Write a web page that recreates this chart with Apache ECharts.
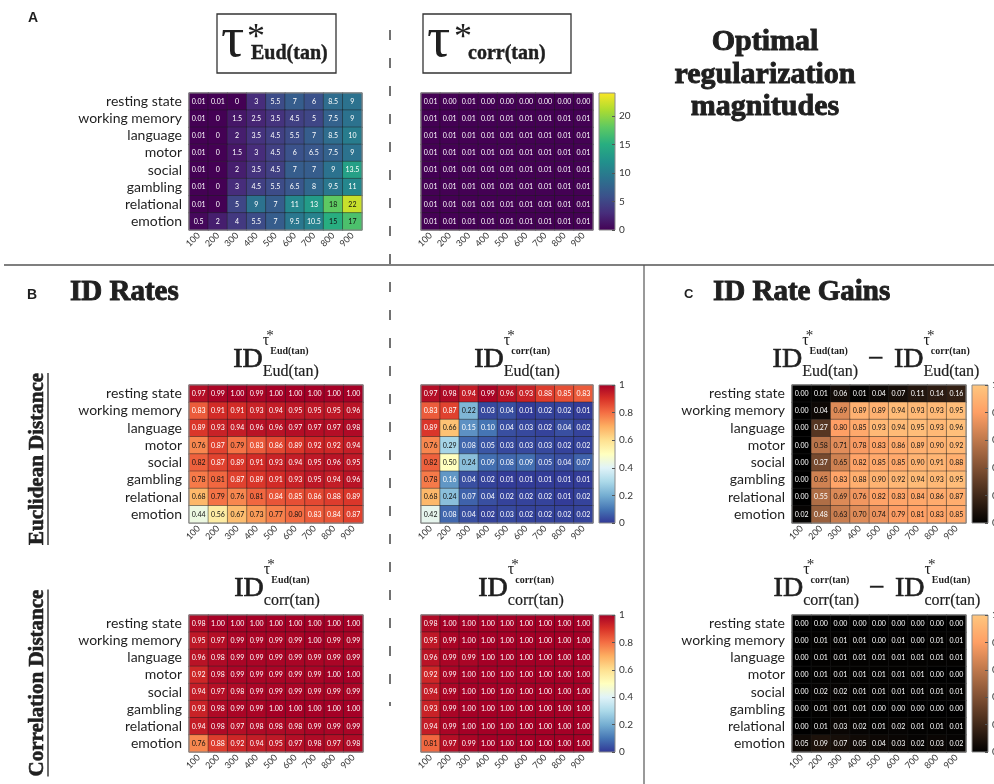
<!DOCTYPE html>
<html><head><meta charset="utf-8">
<script src="https://cdn.jsdelivr.net/npm/echarts@6/dist/echarts.min.js"></script>
<style>html,body{margin:0;padding:0;background:#fff}#c{width:994px;height:784px}</style>
</head><body><div id="c"></div>
<script>
// ---------------- DATA ----------------
const rowLabels = ['resting state','working memory','language','motor','social','gambling','relational','emotion'];
const sampleSizes = ['100','200','300','400','500','600','700','800','900'];
const tauTicks = [0,5,10,15,20];
const rateTicks = [0,0.2,0.4,0.6,0.8,1];

// A: optimal regularization magnitudes
const tauEud = [
 [0.01,0.01,0,3,5.5,7,6,8.5,9],
 [0.01,0,1.5,2.5,3.5,4.5,5,7.5,9],
 [0.01,0,2,3.5,4.5,5.5,7,8.5,10],
 [0.01,0,1.5,3,4.5,6,6.5,7.5,9],
 [0.01,0,2,3.5,4.5,7,7,9,13.5],
 [0.01,0,3,4.5,5.5,6.5,8,9.5,11],
 [0.01,0,5,9,7,11,13,18,22],
 [0.5,2,4,5.5,7,9.5,10.5,15,17]
];
const tauCorr = [
 [0.01,0.00,0.01,0.00,0.00,0.00,0.00,0.00,0.00],
 [0.01,0.01,0.01,0.01,0.01,0.01,0.01,0.01,0.01],
 [0.01,0.01,0.01,0.01,0.01,0.01,0.01,0.01,0.01],
 [0.01,0.01,0.01,0.01,0.01,0.01,0.01,0.01,0.01],
 [0.01,0.01,0.01,0.01,0.01,0.01,0.01,0.01,0.01],
 [0.01,0.01,0.01,0.01,0.01,0.01,0.01,0.01,0.01],
 [0.01,0.01,0.01,0.01,0.01,0.01,0.01,0.01,0.01],
 [0.01,0.01,0.01,0.01,0.01,0.01,0.01,0.01,0.01]
];
// B: ID rates
const idEudTauEud = [
 [0.97,0.99,1.00,0.99,1.00,1.00,1.00,1.00,1.00],
 [0.83,0.91,0.91,0.93,0.94,0.95,0.95,0.95,0.96],
 [0.89,0.93,0.94,0.96,0.96,0.97,0.97,0.97,0.98],
 [0.76,0.87,0.79,0.83,0.86,0.89,0.92,0.92,0.94],
 [0.82,0.87,0.89,0.91,0.93,0.94,0.95,0.96,0.95],
 [0.78,0.81,0.87,0.89,0.91,0.93,0.95,0.94,0.96],
 [0.68,0.79,0.76,0.81,0.84,0.85,0.86,0.88,0.89],
 [0.44,0.56,0.67,0.73,0.77,0.80,0.83,0.84,0.87]
];
const idEudTauCorr = [
 [0.97,0.98,0.94,0.99,0.96,0.93,0.88,0.85,0.83],
 [0.83,0.87,0.22,0.03,0.04,0.01,0.02,0.02,0.01],
 [0.89,0.66,0.15,0.10,0.04,0.03,0.02,0.04,0.02],
 [0.76,0.29,0.08,0.05,0.03,0.03,0.03,0.02,0.02],
 [0.82,0.50,0.24,0.09,0.08,0.09,0.05,0.04,0.07],
 [0.78,0.16,0.04,0.02,0.01,0.01,0.01,0.01,0.01],
 [0.68,0.24,0.07,0.04,0.02,0.02,0.02,0.01,0.02],
 [0.42,0.08,0.04,0.02,0.03,0.02,0.02,0.02,0.02]
];
const idCorrTauEud = [
 [0.98,1.00,1.00,1.00,1.00,1.00,1.00,1.00,1.00],
 [0.95,0.97,0.99,0.99,0.99,0.99,1.00,0.99,0.99],
 [0.96,0.98,0.99,0.99,0.99,0.99,0.99,0.99,0.99],
 [0.92,0.98,0.99,0.99,0.99,0.99,0.99,1.00,1.00],
 [0.94,0.97,0.98,0.99,0.99,0.99,0.99,0.99,0.99],
 [0.93,0.98,0.99,0.99,1.00,1.00,1.00,1.00,1.00],
 [0.94,0.98,0.97,0.98,0.98,0.98,0.99,0.99,0.99],
 [0.76,0.88,0.92,0.94,0.95,0.97,0.98,0.97,0.98]
];
const idCorrTauCorr = [
 [0.98,1.00,1.00,1.00,1.00,1.00,1.00,1.00,1.00],
 [0.95,0.99,1.00,1.00,1.00,1.00,1.00,1.00,1.00],
 [0.96,0.99,0.99,1.00,1.00,1.00,1.00,1.00,1.00],
 [0.92,0.99,1.00,1.00,1.00,1.00,1.00,1.00,1.00],
 [0.94,0.99,1.00,1.00,1.00,1.00,1.00,1.00,1.00],
 [0.93,0.99,1.00,1.00,1.00,1.00,1.00,1.00,1.00],
 [0.94,0.99,1.00,1.00,1.00,1.00,1.00,1.00,1.00],
 [0.81,0.97,0.99,1.00,1.00,1.00,1.00,1.00,1.00]
];
// C: ID rate gains
const gainEud = [
 [0.00,0.01,0.06,0.01,0.04,0.07,0.11,0.14,0.16],
 [0.00,0.04,0.69,0.89,0.89,0.94,0.93,0.93,0.95],
 [0.00,0.27,0.80,0.85,0.93,0.94,0.95,0.93,0.96],
 [0.00,0.58,0.71,0.78,0.83,0.86,0.89,0.90,0.92],
 [0.00,0.37,0.65,0.82,0.85,0.85,0.90,0.91,0.88],
 [0.00,0.65,0.83,0.88,0.90,0.92,0.94,0.93,0.95],
 [0.00,0.55,0.69,0.76,0.82,0.83,0.84,0.86,0.87],
 [0.02,0.48,0.63,0.70,0.74,0.79,0.81,0.83,0.85]
];
const gainCorr = [
 [0.00,0.00,0.00,0.00,0.00,0.00,0.00,0.00,0.00],
 [0.00,0.01,0.01,0.01,0.00,0.01,0.00,0.01,0.01],
 [0.00,0.01,0.01,0.01,0.01,0.01,0.01,0.01,0.01],
 [0.00,0.01,0.01,0.01,0.01,0.01,0.01,0.00,0.00],
 [0.00,0.02,0.02,0.01,0.01,0.01,0.01,0.01,0.01],
 [0.00,0.01,0.01,0.01,0.00,0.00,0.00,0.00,0.00],
 [0.00,0.01,0.03,0.02,0.01,0.02,0.01,0.01,0.01],
 [0.05,0.09,0.07,0.05,0.04,0.03,0.02,0.03,0.02]
];

// ---------------- STYLE ----------------
const viridis = ['#440154','#472d7b','#3b528b','#2c728e','#21918c','#28ae80','#5ec962','#addc30','#fde725'];
const rdylbu = ['#313695','#4575b4','#74add1','#abd9e9','#e0f3f8','#ffffbf','#fee090','#fdae61','#f46d43','#d73027','#a50026'];
const copper = ['#000000','#402819','#805033','#bf784c','#ff9f65','#ffc77f'];
const SERIF = '"Liberation Serif", "Times New Roman", serif';
const SANS = 'Lato, "Open Sans", sans-serif';
const TXT = '#1f1f1f';

const chart = echarts.init(document.getElementById('c'), null, {renderer: 'canvas'});

const fmt1 = v => String(v);
const fmt2 = v => v.toFixed(2);
const tcA = v => v >= 14 ? '#111' : '#fff';
const tcB = v => (v >= 0.2 && v <= 0.825) ? '#111' : '#fff';
const tcC = v => v >= 0.56 ? '#111' : '#fff';

const panels = [
  {data: tauEud, box: [189, 93, 173, 137], rows: true, fmt: fmt1, tc: tcA},
  {data: tauCorr, box: [421, 93, 172, 137], rows: false, fmt: fmt2, tc: () => '#fff'},
  {data: idEudTauEud, box: [189, 385, 174, 138], rows: true, fmt: fmt2, tc: tcB},
  {data: idEudTauCorr, box: [421, 385, 172, 138], rows: false, fmt: fmt2, tc: tcB},
  {data: idCorrTauEud, box: [189, 615, 174, 137], rows: true, fmt: fmt2, tc: tcB},
  {data: idCorrTauCorr, box: [421, 615, 172, 137], rows: false, fmt: fmt2, tc: tcB},
  {data: gainEud, box: [792, 385, 174, 138], rows: true, fmt: fmt2, tc: tcC},
  {data: gainCorr, box: [792, 615, 174, 137], rows: true, fmt: fmt2, tc: () => '#fff'}
];
const colorbars = [
  {box: [599, 93, 16, 137], min: 0, max: 24, interval: 5, colors: viridis, ticks: tauTicks},
  {box: [599, 385, 16, 138], min: 0, max: 1, interval: 0.2, colors: rdylbu, ticks: rateTicks},
  {box: [599, 615, 16, 137], min: 0, max: 1, interval: 0.2, colors: rdylbu, ticks: rateTicks},
  {box: [972, 385, 16, 138], min: 0, max: 1, interval: 0.2, colors: copper, ticks: rateTicks},
  {box: [972, 615, 16, 137], min: 0, max: 1, interval: 0.2, colors: copper, ticks: rateTicks}
];

const grid = [], xAxis = [], yAxis = [], series = [];
panels.forEach((p, k) => {
  grid.push({left: p.box[0], top: p.box[1], width: p.box[2], height: p.box[3],
    show: true, backgroundColor: 'transparent', borderColor: '#8a8a8a', borderWidth: 1,
    z: 10, containLabel: false, outerBoundsMode: 'none'});
  xAxis.push({type: 'category', gridIndex: k, data: sampleSizes,
    axisLine: {show: false}, axisTick: {show: false}, splitLine: {show: false},
    axisLabel: {rotate: 45, interval: 0, hideOverlap: false, fontSize: 9, fontFamily: SANS, color: '#333', margin: 4}});
  yAxis.push({type: 'category', gridIndex: k, data: rowLabels, inverse: true,
    axisLine: {show: false}, axisTick: {show: false}, splitLine: {show: false},
    axisLabel: {show: p.rows, interval: 0, fontSize: 14, fontFamily: SANS, color: TXT, margin: 7}});
  const d = [];
  p.data.forEach((row, r) => row.forEach((v, c) => {
    d.push({value: [c, r, v], label: {color: p.tc(v)}});
  }));
  series.push({type: 'heatmap', xAxisIndex: k, yAxisIndex: k, data: d,
    itemStyle: {borderColor: 'rgba(30,30,30,0.75)', borderWidth: 0.6},
    label: {show: true, fontSize: 7, fontFamily: SANS, formatter: (pp) => p.fmt(pp.value[2])},
    emphasis: {disabled: true}, animation: false});
});
colorbars.forEach((cb, i) => {
  const k = panels.length + i;
  const stops = cb.colors.map((c, j) => ({offset: j / (cb.colors.length - 1), color: c}));
  grid.push({left: cb.box[0], top: cb.box[1], width: cb.box[2], height: cb.box[3],
    show: true, backgroundColor: new echarts.graphic.LinearGradient(0, 1, 0, 0, stops),
    borderColor: '#8a8a8a', borderWidth: 1, containLabel: false, outerBoundsMode: 'none'});
  xAxis.push({type: 'category', gridIndex: k, data: [''], show: false});
  yAxis.push({type: 'value', gridIndex: k, position: 'right', min: cb.min, max: cb.max, interval: cb.interval,
    axisLine: {show: false}, splitLine: {show: false},
    axisTick: {show: true, inside: true, length: 3, lineStyle: {color: '#555'}},
    axisLabel: {fontSize: 10, fontFamily: SANS, color: '#333', margin: 4, showMaxLabel: cb.max === 1,
      formatter: v => String(+v.toFixed(2))}});
});

const visualMap = [
  {type: 'continuous', show: false, min: 0, max: 24, dimension: 2, seriesIndex: [0, 1], inRange: {color: viridis}},
  {type: 'continuous', show: false, min: 0, max: 1, dimension: 2, seriesIndex: [2, 3, 4, 5], inRange: {color: rdylbu}},
  {type: 'continuous', show: false, min: 0, max: 1, dimension: 2, seriesIndex: [6, 7], inRange: {color: copper}}
];

// ---------------- TEXT / GRAPHICS ----------------
const mctx = document.createElement('canvas').getContext('2d');
function tw(font, s) { mctx.font = font; return mctx.measureText(s).width; }
function T(x, base, s, size, o = {}) {
  const font = `${o.bold ? 'bold ' : ''}${size}px ${o.family || SERIF}`;
  const st = {text: s, font: font, fill: o.color || TXT, align: o.align || 'left', textAlign: o.align || 'left',
      verticalAlign: 'middle', textVerticalAlign: 'middle'};
  if (o.heavy) { st.stroke = o.color || TXT; st.lineWidth = o.heavy; }
  return {type: 'text', x: x, y: base - 0.34 * size, silent: true, z: 20, style: st};
}
function formula(supSub, sub) {
  const wID = tw(`28px ${SERIF}`, 'ID');
  const wTau = tw(`16px ${SERIF}`, 'τ');
  const wSS = tw(`bold 10px ${SERIF}`, supSub);
  const wSub = tw(`16px ${SERIF}`, sub);
  const w = wID + Math.max(wTau + 1 + wSS, wSub);
  return {w, build(x0, base) {
    return [
      T(x0, base, 'ID', 28, {heavy: 0.7}),
      T(x0 + wID, base - 23, 'τ', 16),
      T(x0 + wID + wTau * 0.55, base - 28, '*', 15),
      T(x0 + wID + wTau + 1, base - 14, supSub, 10, {bold: true}),
      T(x0 + wID, base + 8, sub, 16, {heavy: 0.2})
    ];
  }};
}
const g = [];
function single(cx, base, supSub, sub) {
  const f = formula(supSub, sub);
  g.push(...f.build(cx - f.w / 2, base));
}
function diff(cx, base, a, b) {
  const f1 = formula(a[0], a[1]), f2 = formula(b[0], b[1]);
  const wm = tw(`28px ${SERIF}`, '−'), gap = 10;
  const w = f1.w + gap + wm + gap + f2.w;
  const x0 = cx - w / 2;
  g.push(...f1.build(x0, base));
  g.push(T(x0 + f1.w + gap, base, '−', 28, {heavy: 0.5}));
  g.push(...f2.build(x0 + f1.w + gap + wm + gap, base));
}
single(276, 369, 'Eud(tan)', 'Eud(tan)');
single(517, 369, 'corr(tan)', 'Eud(tan)');
single(277, 598, 'Eud(tan)', 'corr(tan)');
single(521, 598, 'corr(tan)', 'corr(tan)');
diff(876, 369, ['Eud(tan)', 'Eud(tan)'], ['corr(tan)', 'Eud(tan)']);
diff(877, 598, ['corr(tan)', 'corr(tan)'], ['Eud(tan)', 'corr(tan)']);

// boxed tau titles
g.push({type: 'rect', shape: {x: 217, y: 14, width: 119, height: 59}, style: {fill: 'none', stroke: '#333', lineWidth: 1.3}, silent: true});
g.push(T(221, 60, 'τ', 58));
g.push(T(247, 51, '*', 36));
g.push(T(251, 61, 'Eud(tan)', 20, {bold: true, heavy: 0.4}));
g.push({type: 'rect', shape: {x: 423, y: 14, width: 148, height: 59}, style: {fill: 'none', stroke: '#333', lineWidth: 1.3}, silent: true});
g.push(T(427, 60, 'τ', 58));
g.push(T(454, 51, '*', 36));
g.push(T(468, 61, 'corr(tan)', 20, {bold: true, heavy: 0.4}));

// headings
g.push(T(765, 52, 'Optimal', 30, {bold: true, align: 'center', heavy: 0.9}));
g.push(T(765, 85, 'regularization', 30, {bold: true, align: 'center', heavy: 0.9}));
g.push(T(765, 117, 'magnitudes', 30, {bold: true, align: 'center', heavy: 0.9}));
g.push(T(28, 23, 'A', 14, {bold: true, family: '"Liberation Sans", Arial, sans-serif'}));
g.push(T(27, 300, 'B', 14, {bold: true, family: '"Liberation Sans", Arial, sans-serif'}));
g.push(T(684, 299, 'C', 13, {bold: true, family: '"Liberation Sans", Arial, sans-serif'}));
g.push(T(70, 302, 'ID Rates', 29, {bold: true, heavy: 0.9}));
g.push(T(713, 302, 'ID Rate Gains', 29, {bold: true, heavy: 0.9}));

// vertical side labels (underlined)
function sideLabel(cy, s) {
  const font = `bold 21px ${SERIF}`;
  const w = tw(font, s);
  g.push({type: 'text', x: 38, y: cy, rotation: Math.PI / 2, silent: true, z: 20,
    style: {text: s, font: font, fill: TXT, stroke: TXT, lineWidth: 0.6, align: 'center', textAlign: 'center', verticalAlign: 'middle', textVerticalAlign: 'middle'}});
  g.push({type: 'line', shape: {x1: 48, y1: cy - w / 2, x2: 48, y2: cy + w / 2}, style: {stroke: TXT, lineWidth: 1.3}, silent: true});
}
sideLabel(459, 'Euclidean Distance');
sideLabel(683, 'Correlation Distance');

// separators
g.push({type: 'line', shape: {x1: 4, y1: 265, x2: 994, y2: 265}, style: {stroke: '#555', lineWidth: 1.5}, silent: true});
g.push({type: 'line', shape: {x1: 644, y1: 265, x2: 644, y2: 784}, style: {stroke: '#555', lineWidth: 1.2}, silent: true});
g.push({type: 'line', shape: {x1: 390, y1: 30, x2: 390, y2: 706}, style: {stroke: '#444', lineWidth: 1.5, lineDash: [10, 18]}, silent: true});

chart.setOption({
  backgroundColor: '#fff',
  animation: false,
  grid, xAxis, yAxis, series, visualMap,
  graphic: {elements: g}
});
</script></body></html>
